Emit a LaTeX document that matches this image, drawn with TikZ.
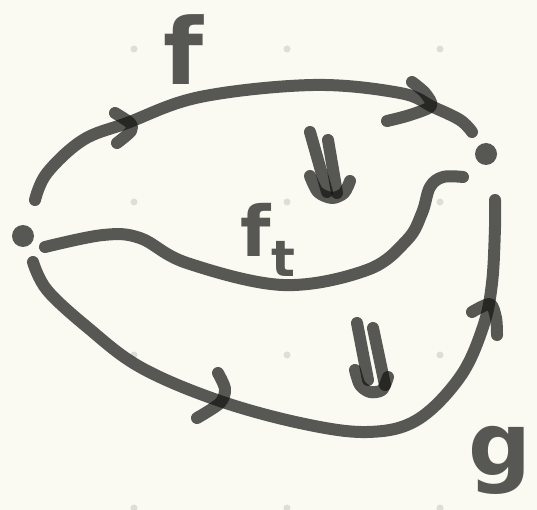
\documentclass[tikz,border=0pt]{standalone}
\usepackage{tikz}
\usepackage{fontspec}
\setsansfont{DejaVu Sans}

\definecolor{paper}{RGB}{250,250,242}
\definecolor{ink}{RGB}{19,20,17}
\definecolor{griddot}{RGB}{222,222,216}

\tikzset{
  stroke/.style={draw=ink, draw opacity=0.7, line width=12pt, line cap=round, line join=round},
  pt/.style={circle, fill=ink, fill opacity=0.7, inner sep=0pt, minimum size=22pt},
  lbl/.style={text=ink, text opacity=0.7, inner sep=0pt}
}

\begin{document}
\begin{tikzpicture}[x=1pt, y=-1pt]

    % paper and dot grid
    \fill[paper] (0,0) rectangle (537,510);
    \useasboundingbox (0,0) rectangle (537,510);
    \foreach \i in {134,287,440}
      \foreach \j in {49,202,355,508}
        \fill[griddot] (\i,\j) circle (3.5);

    % the two points
    \node[pt] (a) at (23,236) {};
    \node[pt] (b) at (486,154) {};

    % curve f
    \draw[stroke] plot[smooth, tension=0.6] coordinates {(35,200) (47,173) (83,140) (127,123) (200,97) (313,85) (400,93) (433,107) (460,120) (472,132)};
    \draw[stroke] plot[smooth] coordinates {(115,113) (130,123) (131,131) (117,143)};
    \draw[stroke] plot[smooth] coordinates {(412,82) (425,93) (431,106) (410,115) (387,121)};

    % curve f_t
    \draw[stroke] plot[smooth, tension=0.6] coordinates {(45,247) (103,235) (140,238) (187,263) (283,285) (367,270) (407,240) (422,213) (430,187) (443,177) (463,177)};

    % curve g
    \draw[stroke] plot[smooth, tension=0.6] coordinates {(33,262) (47,290) (87,327) (140,367) (217,400) (300,423) (367,432) (417,420) (460,377) (483,327) (492,283) (495,227) (495,200)};
    \draw[stroke] plot[smooth] coordinates {(218,373) (225,389) (220,403) (197,418)};
    \draw[stroke] plot[smooth] coordinates {(472,312) (490,304) (496,318) (497,335)};

    % double arrows
    \draw[stroke] (310,132) -- (327,192);
    \draw[stroke] (328,140) -- (337,193);
    \draw[stroke] plot[smooth] coordinates {(310,176) (318,192) (332,198) (344,193) (350,181)};
    \draw[stroke] (357,323) -- (368,380);
    \draw[stroke] (373,328) -- (385,385);
    \draw[stroke] plot[smooth] coordinates {(355,370) (360,385) (370,392) (382,390) (388,377)};

    % labels
    \node[lbl, font=\sffamily\bfseries\fontsize{92}{92}\selectfont] (lf) at (184,50) {f};
    \node[lbl, font=\sffamily\bfseries\fontsize{70}{70}\selectfont] (lft) at (268,240) {f\raisebox{-0.28em}{\fontsize{50}{50}\selectfont t}};
    \node[lbl, font=\sffamily\bfseries\fontsize{88}{88}\selectfont] (lg) at (500,460) {g};

\end{tikzpicture}
\end{document}
